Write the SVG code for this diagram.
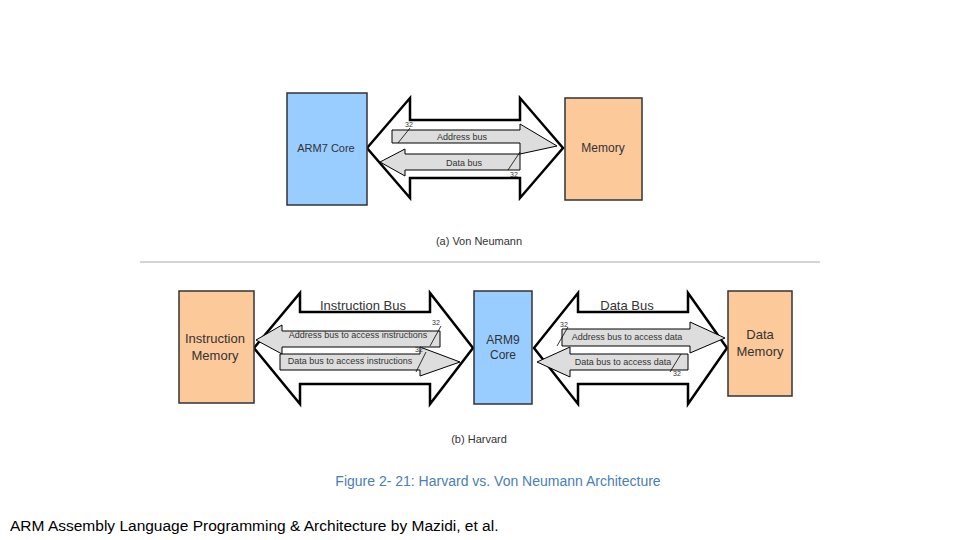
<svg xmlns="http://www.w3.org/2000/svg" width="960" height="540" viewBox="0 0 960 540">
<style>
.t{font-family:"Liberation Sans",Arial,sans-serif;fill:#333}
.big{fill:#fff;stroke:#000;stroke-width:2.5;stroke-linejoin:miter}
.in{fill:#ddd;stroke:#000;stroke-width:1}
.sl{stroke:#000;stroke-width:0.8}
.b{fill:#99ccff;stroke:#333;stroke-width:1.5}
.o{fill:#fcc99b;stroke:#333;stroke-width:1.5}
</style>
<rect width="960" height="540" fill="#fff"/>
<g id="connectors">
<polygon class="big" points="367,148 410,98 410,120 520,120 520,98 563,148 520,198 520,178 410,178 410,198"/>
<polygon class="in" points="392,130 520,130 520,124 557,146 520,154 520,143 392,143"/>
<polygon class="in" points="380,162 405,149 405,154 520,154 520,170 405,170 405,176"/>
<line class="sl" x1="398" y1="143" x2="410" y2="128"/>
<line class="sl" x1="508" y1="170" x2="520" y2="152"/>
<polygon class="big" points="254,348 300,293 300,312 430,312 430,293 473,348 430,404 430,384 300,384 300,404"/>
<polygon class="in" points="256,340 282,325 282,331 440,331 440,347 282,347 282,354"/>
<polygon class="in" points="280,354 420,354 420,347 460,362 420,376 420,370 280,370"/>
<line class="sl" x1="430" y1="346" x2="441" y2="326"/>
<line class="sl" x1="416" y1="372" x2="426" y2="352"/>
<polygon class="big" points="534,348 578,293 578,312 688,312 688,293 727,348 688,404 688,384 578,384 578,404"/>
<polygon class="in" points="562,329 690,329 690,322 725,338 690,353 690,346 562,346"/>
<polygon class="in" points="537,362 570,347 570,354 688,354 688,370 570,370 570,377"/>
<line class="sl" x1="557" y1="346" x2="568" y2="327"/>
<line class="sl" x1="670" y1="372" x2="681" y2="354"/>
</g>
<g id="arm7"><rect class="b" x="287" y="93" width="80" height="112"/><text class="t" x="326" y="152" font-size="11" text-anchor="middle">ARM7 Core</text></g>
<g id="memory"><rect class="o" x="565" y="98" width="77" height="102"/><text class="t" x="603" y="152" font-size="12" text-anchor="middle">Memory</text></g>
<g id="imem"><rect class="o" x="179" y="291" width="75" height="112"/><text class="t" x="215" y="343" font-size="13" text-anchor="middle">Instruction</text><text class="t" x="215" y="360" font-size="13" text-anchor="middle">Memory</text></g>
<g id="arm9"><rect class="b" x="474" y="291" width="58" height="113"/><text class="t" x="503" y="344" font-size="12" text-anchor="middle">ARM9</text><text class="t" x="503" y="359" font-size="12" text-anchor="middle">Core</text></g>
<g id="dmem"><rect class="o" x="728" y="291" width="64" height="105"/><text class="t" x="760" y="339" font-size="13" text-anchor="middle">Data</text><text class="t" x="760" y="356" font-size="13" text-anchor="middle">Memory</text></g>
<g class="t" font-size="9">
<text x="462" y="140" text-anchor="middle">Address bus</text>
<text x="464" y="166" text-anchor="middle">Data bus</text>
<text x="405" y="127" font-size="7">32</text>
<text x="510" y="177" font-size="7">32</text>
<text x="432" y="325" font-size="7">32</text>
<text x="415" y="352" font-size="7">32</text>
<text x="560" y="327" font-size="7">32</text>
<text x="673" y="376" font-size="7">32</text>
<text x="358" y="338" text-anchor="middle">Address bus to access instructions</text>
<text x="350" y="364" text-anchor="middle">Data bus to access instructions</text>
<text x="627" y="340" text-anchor="middle">Address bus to access data</text>
<text x="623" y="365" text-anchor="middle">Data bus to access data</text>
</g>
<text class="t" x="363" y="310" font-size="13" text-anchor="middle">Instruction Bus</text>
<text class="t" x="627" y="310" font-size="13" text-anchor="middle">Data Bus</text>
<text class="t" x="479" y="245" font-size="11" text-anchor="middle">(a) Von Neumann</text>
<line x1="140" y1="262" x2="820" y2="262" stroke="#aaa" stroke-width="1"/>
<text class="t" x="479" y="443" font-size="11" text-anchor="middle">(b) Harvard</text>
<text x="498" y="486" font-size="14" text-anchor="middle" font-family="Liberation Sans,Arial,sans-serif" fill="#4a7eb5">Figure 2- 21: Harvard vs. Von Neumann Architecture</text>
<text x="10" y="531" font-size="15.5" font-family="Liberation Sans,Arial,sans-serif" fill="#000">ARM Assembly Language Programming &amp; Architecture by Mazidi, et al.</text>
</svg>
